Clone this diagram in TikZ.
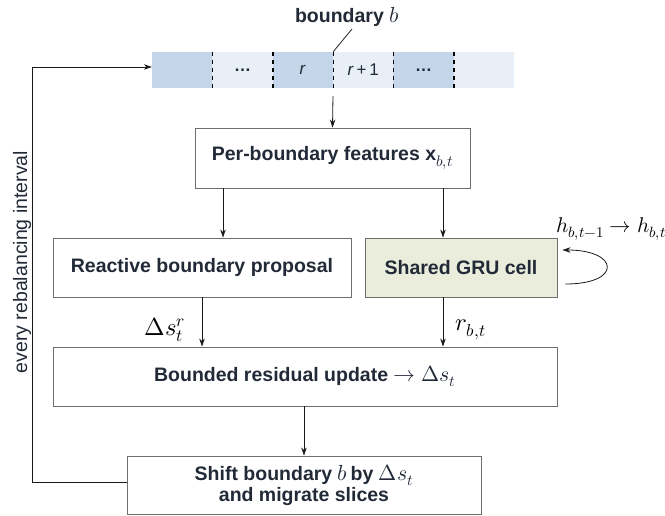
\documentclass[tikz,border=0pt]{standalone}
\usepackage{fontspec}
\usepackage{unicode-math}
\setmainfont{Liberation Sans}
\setmathfont{Latin Modern Math}[Scale=1.12]
\usetikzlibrary{arrows.meta,calc}
\definecolor{txtc}{RGB}{34,42,56}
\definecolor{cellblue}{RGB}{197,213,234}
\definecolor{celllight}{RGB}{233,239,247}
\definecolor{grufill}{RGB}{234,237,220}
\definecolor{framec}{RGB}{110,110,110}
\begin{document}
\begin{tikzpicture}[x=1pt,y=-1pt,
  boxstyle/.style={draw=framec,line width=0.9pt,fill=white,inner sep=0pt,align=center,
    text=txtc,font=\fontsize{19.5}{23}\selectfont\bfseries},
  cellstyle/.style={draw=none,inner sep=0pt,minimum width=60.33pt,minimum height=36pt,
    text=txtc,font=\fontsize{17}{20}\selectfont},
  dashline/.style={line width=1.3pt,black,dash pattern=on 4.5pt off 3.5pt},
  arr/.style={line width=0.8pt,black!90,-{Stealth[length=8pt,width=5.5pt]}},
  mathlab/.style={inner sep=0pt,text=black,font=\fontsize{22}{25}\selectfont}
]
\useasboundingbox (0,0) rectangle (665,515);
% strip
\node[cellstyle,fill=cellblue]  (c1) at (182.2,70) {};
\node[cellstyle,fill=celllight] (c2) at (242.5,70) {\textbf{\dots}};
\node[cellstyle,fill=cellblue]  (c3) at (302.8,70) {\textit{r}};
\node[cellstyle,fill=celllight] (c4) at (363.2,70) {\textit{r}\,+\,1};
\node[cellstyle,fill=cellblue]  (c5) at (423.5,70) {\textbf{\dots}};
\node[cellstyle,fill=celllight] (c6) at (483.8,70) {};
\foreach \c in {c1,c2,c3,c4,c5}{\draw[dashline] (\c.north east) -- (\c.south east);}
% boundary label
\node[inner sep=0pt,text=txtc,font=\fontsize{19.5}{23}\selectfont\bfseries] (blab) at (347,17) {boundary \mdseries$b$};
\coordinate (bl) at (352,29);
\draw[line width=0.8pt,black!85] (c3.north east) -- (bl);
% boxes
\node[boxstyle,minimum width=275pt,minimum height=60pt] (per) at (332.5,158) {Per-boundary features $\mathbf{x}_{b,t}$};
\node[boxstyle,minimum width=298pt,minimum height=59pt] (react) at (202,267.5) {Reactive boundary proposal};
\node[boxstyle,fill=grufill,minimum width=192pt,minimum height=59pt] (gru) at (461,267.5) {Shared GRU cell};
\node[boxstyle,minimum width=504pt,minimum height=59pt] (bound) at (305,376.5) {Bounded residual update $\rightarrow\Delta s_t$};
\node[boxstyle,minimum width=354pt,minimum height=58pt] (shift) at (304,485) {Shift boundary $b$\,by $\Delta s_t$\\[-2pt] and migrate slices};
% arrows
\coordinate (sb) at (333,96);
\draw[arr] (sb) -- (per.north);
\coordinate (xa) at (223,0);
\coordinate (xg) at (443,0);
\draw[arr] (per.south -| xa) -- (react.north -| xa);
\draw[arr] (per.south -| xg) -- (gru.north -| xg);
\draw[arr] (react.south) -- (bound.north -| react.south);
\draw[arr] (gru.south -| xg) -- (bound.north -| xg);
\draw[arr] (bound.south -| shift.north) -- (shift.north);
\node[mathlab] (dsr) at (165,330) {$\Delta s_t^{r}$};
\node[mathlab] (rbt) at (471,330) {$r_{b,t}$};
% self loop
\draw[arr] ([xshift=8pt,yshift=-16.5pt]gru.east) .. controls +(57,0) and +(57,0) .. ([xshift=5pt,yshift=17.5pt]gru.east);
\node[inner sep=0pt,text=black,font=\fontsize{19}{22}\selectfont] (hlab) at (611,229) {$h_{b,t-1}\rightarrow h_{b,t}$};
% feedback loop
\draw[arr] ([yshift=3pt]shift.west) -- ++(-94,0) |- ([yshift=3pt]c1.west);
\node[rotate=90,inner sep=0pt,text=txtc,font=\fontsize{19.5}{23}\selectfont] (every) at (22,262) {every rebalancing interval};
\end{tikzpicture}
\end{document}
